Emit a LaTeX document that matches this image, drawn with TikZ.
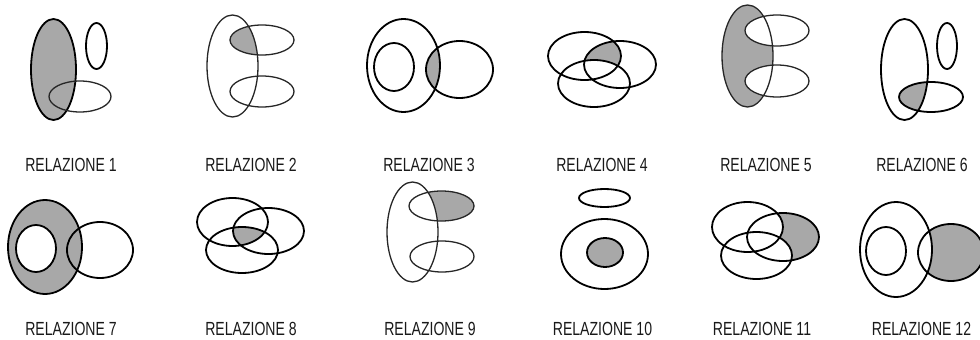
\documentclass[tikz,border=0pt]{standalone}
\usepackage{fontspec}
\newfontfamily\labfont{Liberation Sans}[FakeStretch=0.74]
\definecolor{fillgray}{RGB}{168,168,168}
\definecolor{txt}{RGB}{25,25,25}
\tikzset{
  thk/.style={draw=black, line width=1.8pt},
  thn/.style={draw=black!85, line width=1.3pt},
  gfill/.style={fill=fillgray},
  wfill/.style={fill=white},
  lab/.style={font=\labfont\fontsize{19}{21}\selectfont, text=txt, anchor=base, inner sep=0pt},
}
\newcommand{\E}[4]{(#1,#2) ellipse [x radius=#3pt, y radius=#4pt]}
\begin{document}
\begin{tikzpicture}[x=1pt,y=-1pt]
\useasboundingbox (0,0) rectangle (980,340);
\clip (0,0) rectangle (980,340);
% ---------- Relazione 1
\path[gfill] \E{53.5}{69.5}{22.5}{50.5};
\draw[thk] \E{53.5}{69.5}{22.5}{50.5};
\draw[thk] \E{96.5}{46}{10.5}{23};
\draw[thn] \E{80}{96.5}{31}{15.5};
\node[lab] (l1) at (71,171) {RELAZIONE 1};
% ---------- Relazione 2
\begin{scope}
\clip \E{232.5}{66}{25.5}{51};
\path[gfill] \E{262}{40}{32}{15};
\end{scope}
\draw[thn] \E{232.5}{66}{25.5}{51};
\draw[thn] \E{262}{40}{32}{15};
\draw[thn] \E{262}{91.5}{32}{15.5};
\node[lab] (l2) at (251,171) {RELAZIONE 2};
% ---------- Relazione 3
\begin{scope}
\clip \E{403.5}{65.5}{36.5}{46.5};
\path[gfill] \E{459.5}{69.5}{33.5}{28.5};
\end{scope}
\draw[thk] \E{403.5}{65.5}{36.5}{46.5};
\draw[thk] \E{394}{67}{20}{24};
\draw[thk] \E{459.5}{69.5}{33.5}{28.5};
\node[lab] (l3) at (429,171) {RELAZIONE 3};
% ---------- Relazione 4
\begin{scope}
\clip \E{584.5}{56}{36.5}{24};
\clip \E{620}{64.5}{36}{23.5};
\path[gfill] (540,20) rectangle (670,110);
\path[wfill] \E{594}{83.5}{36}{23.5};
\end{scope}
\draw[thk] \E{584.5}{56}{36.5}{24};
\draw[thk] \E{620}{64.5}{36}{23.5};
\draw[thk] \E{594}{83.5}{36}{23.5};
\node[lab] (l4) at (602,171) {RELAZIONE 4};
% ---------- Relazione 5
\path[gfill] \E{747.5}{56}{25.5}{51};
\path[wfill] \E{777}{30.5}{32}{15.5};
\path[wfill] \E{777}{81}{32}{16};
\draw[thn] \E{747.5}{56}{25.5}{51};
\draw[thn] \E{777}{30.5}{32}{15.5};
\draw[thn] \E{777}{81}{32}{16};
\node[lab] (l5) at (766,171) {RELAZIONE 5};
% ---------- Relazione 6
\begin{scope}
\clip \E{904.5}{69.5}{23.5}{50.5};
\path[gfill] \E{931}{97}{32}{15};
\end{scope}
\draw[thk] \E{904.5}{69.5}{23.5}{50.5};
\draw[thk] \E{947}{46}{10}{23};
\draw[thk] \E{931}{97}{32}{15};
\node[lab] (l6) at (922,171) {RELAZIONE 6};
% ---------- Relazione 7
\path[gfill] \E{45}{247}{37}{47};
\path[wfill] \E{36}{248.5}{20}{23.5};
\draw[thk] \E{45}{247}{37}{47};
\draw[thk] \E{36}{248.5}{20}{23.5};
\draw[thk] \E{100}{250}{33}{28};
\node[lab] (l7) at (71,335) {RELAZIONE 7};
% ---------- Relazione 8
\begin{scope}
\clip \E{232.5}{222}{35.5}{24};
\clip \E{268.5}{231}{35.5}{23};
\path[gfill] \E{242}{250}{36}{23};
\end{scope}
\draw[thk] \E{232.5}{222}{35.5}{24};
\draw[thk] \E{268.5}{231}{35.5}{23};
\draw[thk] \E{242}{250}{36}{23};
\node[lab] (l8) at (251,335) {RELAZIONE 8};
% ---------- Relazione 9
\path[gfill] \E{441.5}{206}{32.5}{15};
\path[wfill] \E{412.5}{232}{25.5}{50};
\draw[thn] \E{412.5}{232}{25.5}{50};
\draw[thn] \E{441.5}{206}{32.5}{15};
\draw[thn] \E{442}{256.5}{32}{15.5};
\node[lab] (l9) at (430,335) {RELAZIONE 9};
% ---------- Relazione 10
\path[gfill] \E{605}{252.5}{18}{14.5};
\draw[thk] \E{604.5}{198}{25.5}{9};
\draw[thk] \E{604.5}{254}{43.5}{35};
\draw[thk] \E{605}{252.5}{18}{14.5};
\node[lab] (l10) at (602.5,335) {RELAZIONE 10};
% ---------- Relazione 11
\path[gfill] \E{783}{237}{36}{24};
\path[wfill] \E{747.5}{227}{35.5}{25};
\path[wfill] \E{756.5}{255.5}{35.5}{23.5};
\draw[thk] \E{747.5}{227}{35.5}{25};
\draw[thk] \E{783}{237}{36}{24};
\draw[thk] \E{756.5}{255.5}{35.5}{23.5};
\node[lab] (l11) at (762,335) {RELAZIONE 11};
% ---------- Relazione 12
\path[gfill] \E{951}{252.5}{33}{28.5};
\path[wfill] \E{896}{249.5}{36}{47.5};
\draw[thk] \E{896}{249.5}{36}{47.5};
\draw[thk] \E{886}{251}{20}{24};
\draw[thk] \E{951}{252.5}{33}{28.5};
\node[lab] (l12) at (921.5,335) {RELAZIONE 12};
\end{tikzpicture}
\end{document}
